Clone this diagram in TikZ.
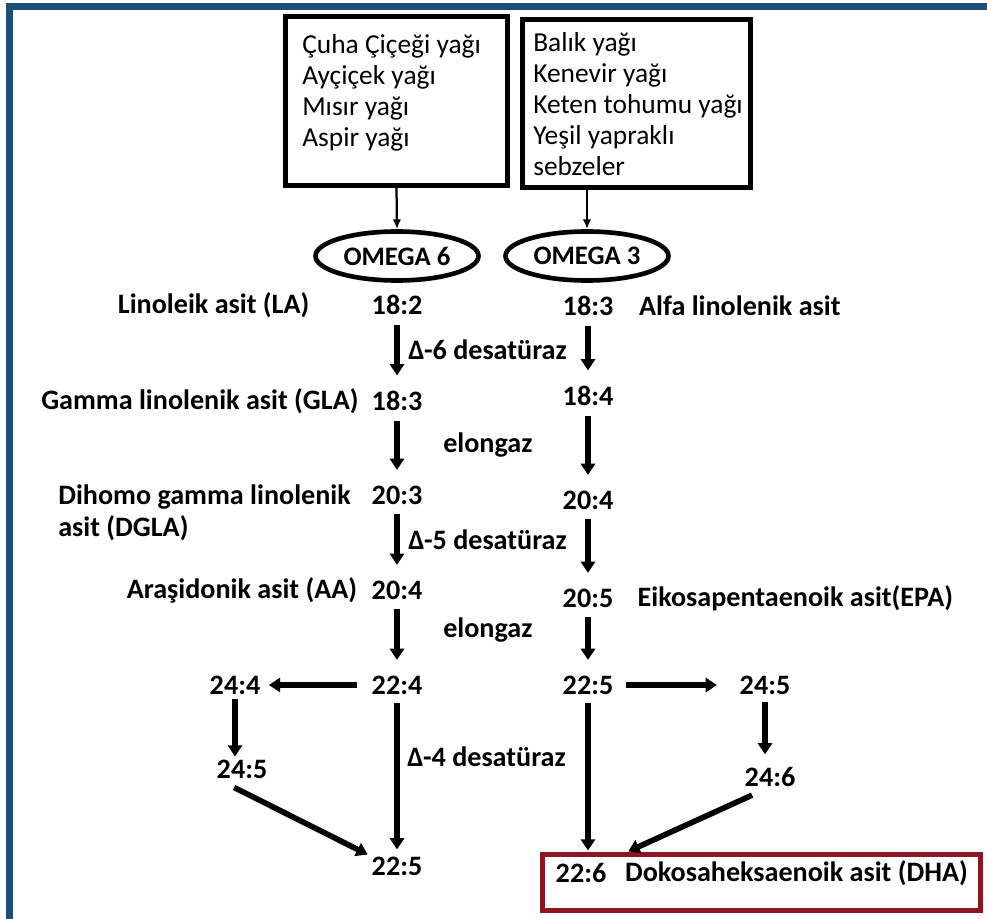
\documentclass[tikz,border=0pt]{standalone}
\usepackage{fontspec}
\setmainfont{Carlito}
\usetikzlibrary{arrows.meta,positioning,shapes.geometric}
\definecolor{frameblue}{RGB}{31,78,121}
\definecolor{dhared}{RGB}{140,22,34}
\newcommand{\pxu}{0.025cm}

\begin{document}
\begin{tikzpicture}[x=\pxu,y=-\pxu,
  num/.style={font=\bfseries\fontsize{20}{23}\selectfont,inner sep=0pt},
  acid/.style={font=\bfseries\fontsize{20}{23}\selectfont,inner sep=0pt,align=left},
  enz/.style={font=\bfseries\fontsize{20}{23}\selectfont,inner sep=0pt,anchor=west},
  srcbox/.style={draw,line width=3.6pt,inner sep=0pt},
  srctext/.style={font=\fontsize{19.5}{22}\selectfont,align=left,inner sep=0pt,anchor=north west},
  omega/.style={ellipse,draw,line width=3.3pt,inner sep=0pt,minimum width=163*\pxu,minimum height=49*\pxu,font=\bfseries\fontsize{19}{22}\selectfont},
  flow/.style={-{Triangle[width=10pt,length=8pt]},line width=4pt,shorten <=7pt,shorten >=11pt},
  feed/.style={-{Latex[width=6pt,length=7pt]},line width=1.6pt}]
  \useasboundingbox (0,0) rectangle (987,919);
  \draw[frameblue,line width=4.5pt] (9.5,919) -- (9.5,6.5) -- (987,6.5);

  \node[srcbox,minimum width=222*\pxu,minimum height=169*\pxu] (sixbox) at (396.5,101) {};
  \node[srcbox,minimum width=228*\pxu,minimum height=168*\pxu] (threebox) at (636.5,103.5) {};
  \node[srctext] (sixsrc) at (302,34) {Çuha Çiçeği yağı\\Ayçiçek yağı\\Mısır yağı\\Aspir yağı};
  \node[srctext] (threesrc) at (533,32) {Balık yağı\\Kenevir yağı\\Keten tohumu yağı\\Yeşil yapraklı\\sebzeler};
  \node[omega] (omsix) at (397,256) {OMEGA 6};
  \node[omega] (omthree) at (587,256) {OMEGA 3};
  \draw[feed] (sixbox.south) -- (omsix.north); \draw[feed] (omthree.north |- threebox.south) -- (omthree.north);

  \node[num] (la) at (397,305) {18:2};
  \node[num] (gla) at (397,401) {18:3};
  \node[num] (dgla) at (397,495) {20:3};
  \node[num] (aa) at (397,590) {20:4};
  \node[num] (dpa) at (397,685) {22:4};
  \node[num] (dpasix) at (397,866) {22:5};
  \node[num] (tta) at (235,685) {24:4};
  \node[num] (tpa) at (242,769) {24:5};
  \node[num] (ala) at (588,306) {18:3};
  \node[num] (sda) at (588,396) {18:4};
  \node[num] (eta) at (588,500) {20:4};
  \node[num] (epa) at (588,598) {20:5};
  \node[num] (dpathree) at (588,685) {22:5};
  \node[num] (tpathree) at (765,685) {24:5};
  \node[num] (thpa) at (770,777) {24:6};

  \node[acid,left=44pt of la] (lalbl) {Linoleik asit (LA)};
  \node[acid,left=9pt of gla] (glalbl) {Gamma linolenik asit (GLA)};
  \node[acid,anchor=north west] (dglalbl) at (58,484) {Dihomo gamma linolenik\\asit (DGLA)};
  \node[acid,left=10pt of aa] (aalbl) {Araşidonik asit (AA)};
  \node[acid,right=18pt of ala] (alalbl) {Alfa linolenik asit};
  \node[acid,right=17pt of epa] (epalbl) {Eikosapentaenoik asit(EPA)};

  \node[enz] (dsix) at (408,350) {Δ-6 desatüraz};
  \node[enz] (elone) at (443,445) {elongaz};
  \node[enz] (dfive) at (408,540) {Δ-5 desatüraz};
  \node[enz] (eltwo) at (443,630) {elongaz};
  \node[enz] (dfour) at (407,757) {Δ-4 desatüraz};

  \node[draw=dhared,line width=3.6pt,inner sep=0pt,minimum width=438*\pxu,minimum height=56*\pxu] (dhabox) at (761.5,882.5) {};
  \node[num] (dha) at (581,873) {22:6};
  \node[acid,right=13pt of dha] (dhalbl) {Dokosaheksaenoik asit (DHA)};

  \draw[flow] (la) -- (gla); \draw[flow] (gla) -- (dgla); \draw[flow] (dgla) -- (aa); \draw[flow] (aa) -- (dpa);
  \draw[flow] (ala) -- (sda); \draw[flow] (sda) -- (eta); \draw[flow] (eta) -- (epa); \draw[flow] (epa) -- (dpathree);
  \draw[flow,shorten <=10pt,shorten >=6pt] (dpa) -- (tta);
  \draw[flow,shorten <=9pt,shorten >=16pt] (dpathree) -- (tpathree);
  \draw[flow,shorten <=3pt,shorten >=2pt] (tta) -- (tta |- tpa.north);
  \draw[flow,shorten <=5pt,shorten >=9pt] (tpathree) -- (tpathree |- thpa.north);
  \draw[flow,shorten <=6pt,shorten >=5pt] (dpa) -- (dpasix);
  \draw[flow,shorten <=6pt,shorten >=1pt] (dpathree) -- (dpathree |- dhabox.north);
  \draw[flow,shorten <=14pt,shorten >=3pt] (tpa.south west) -- (dpasix.north west);
  \draw[flow,shorten <=14pt,shorten >=1pt] (thpa.south) -- ([xshift=87*\pxu]dhabox.north west);
\end{tikzpicture}
\end{document}
